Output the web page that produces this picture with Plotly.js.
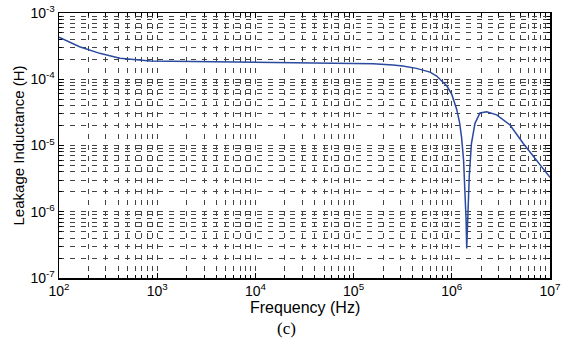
<!DOCTYPE html>
<html>
<head>
<meta charset="utf-8">
<script src="https://cdn.plot.ly/plotly-3.0.1.min.js"></script>
<style>html,body{margin:0;padding:0;background:#fff;}#chart{width:573px;height:338px;}</style>
</head>
<body>
<div id="chart"></div>
<script>
const freqHz = [100, 162, 260, 417, 851, 2754, 8810, 31623, 100000, 158500, 251200, 316200, 436500, 501200, 600000, 701500, 851100, 891300, 1000000, 1122000, 1202000, 1259000, 1318000, 1361000, 1396000, 1419000, 1445000, 1470000, 1507000, 1585000, 1722000, 1936000, 2265000, 2864000, 3917000, 5346000, 7311000, 10000000];
const leakageH = [4.3e-4, 3.1e-4, 2.46e-4, 2.07e-4, 1.88e-4, 1.84e-4, 1.83e-4, 1.80e-4, 1.74e-4, 1.72e-4, 1.64e-4, 1.58e-4, 1.46e-4, 1.38e-4, 1.28e-4, 1.12e-4, 8.6e-5, 7.9e-5, 5.9e-5, 3.5e-5, 2.2e-5, 1.3e-5, 6e-6, 2.2e-6, 8e-7, 2.8e-7, 8e-7, 1.6e-6, 3.5e-6, 1.07e-5, 2.16e-5, 3.1e-5, 3.24e-5, 2.9e-5, 2.04e-5, 1.07e-5, 6.0e-6, 3.3e-6];
const xTickVals = [1e2, 1e3, 1e4, 1e5, 1e6, 1e7];
const xTickText = ['10<sup>2</sup>', '10<sup>3</sup>', '10<sup>4</sup>', '10<sup>5</sup>', '10<sup>6</sup>', '10<sup>7</sup>'];
const yTickVals = [1e-7, 1e-6, 1e-5, 1e-4, 1e-3];
const yTickText = ['10<sup>-7</sup>', '10<sup>-6</sup>', '10<sup>-5</sup>', '10<sup>-4</sup>', '10<sup>-3</sup>'];
const xTitle = 'Frequency (Hz)';
const yTitle = 'Leakage Inductance (H)';
const caption = '(c)';

const sans = 'Liberation Sans, Arial, sans-serif';
const gridStyle = {gridcolor: '#444', griddash: '5px,6px', gridwidth: 1};

const axisCommon = Object.assign({
  type: 'log',
  tickmode: 'array',
  showline: true,
  linecolor: '#000',
  linewidth: 1.5,
  mirror: 'allticks',
  ticks: 'inside',
  ticklen: 5,
  tickcolor: '#000',
  showgrid: true,
  zeroline: false,
  tickfont: {family: sans, size: 14, color: '#000'},
  minor: Object.assign({tickmode: 'linear', dtick: 'D1', ticks: 'inside', ticklen: 3, tickcolor: '#000', showgrid: true}, gridStyle)
}, gridStyle);

const layout = {
  width: 573, height: 338,
  margin: {l: 59, r: 23, t: 13, b: 60},
  paper_bgcolor: '#fff', plot_bgcolor: '#fff',
  font: {family: sans, size: 13, color: '#000'},
  showlegend: false,
  xaxis: Object.assign({}, axisCommon, {range: [2, 7], tickvals: xTickVals, ticktext: xTickText}),
  yaxis: Object.assign({}, axisCommon, {range: [-7, -3], tickvals: yTickVals, ticktext: yTickText}),
  annotations: [
    {text: xTitle, xref: 'paper', yref: 'paper', x: 0.5, y: -0.11,
     xanchor: 'center', yanchor: 'middle', showarrow: false,
     font: {family: sans, size: 16, color: '#000'}},
    {text: yTitle, xref: 'paper', yref: 'paper', x: -0.0815, y: 0.5, textangle: -90,
     xanchor: 'center', yanchor: 'middle', showarrow: false,
     font: {family: sans, size: 15, color: '#000'}},
    {text: caption, xref: 'paper', yref: 'paper', x: 0.464, y: -0.19,
     xanchor: 'center', yanchor: 'middle', showarrow: false,
     font: {family: 'Liberation Serif, Times New Roman, serif', size: 17, color: '#000'}}
  ]
};

Plotly.newPlot('chart', [{
  x: freqHz, y: leakageH, type: 'scatter', mode: 'lines',
  line: {color: '#2a4aa0', width: 1.5}
}], layout, {staticPlot: true, displayModeBar: false});
</script>
</body>
</html>
